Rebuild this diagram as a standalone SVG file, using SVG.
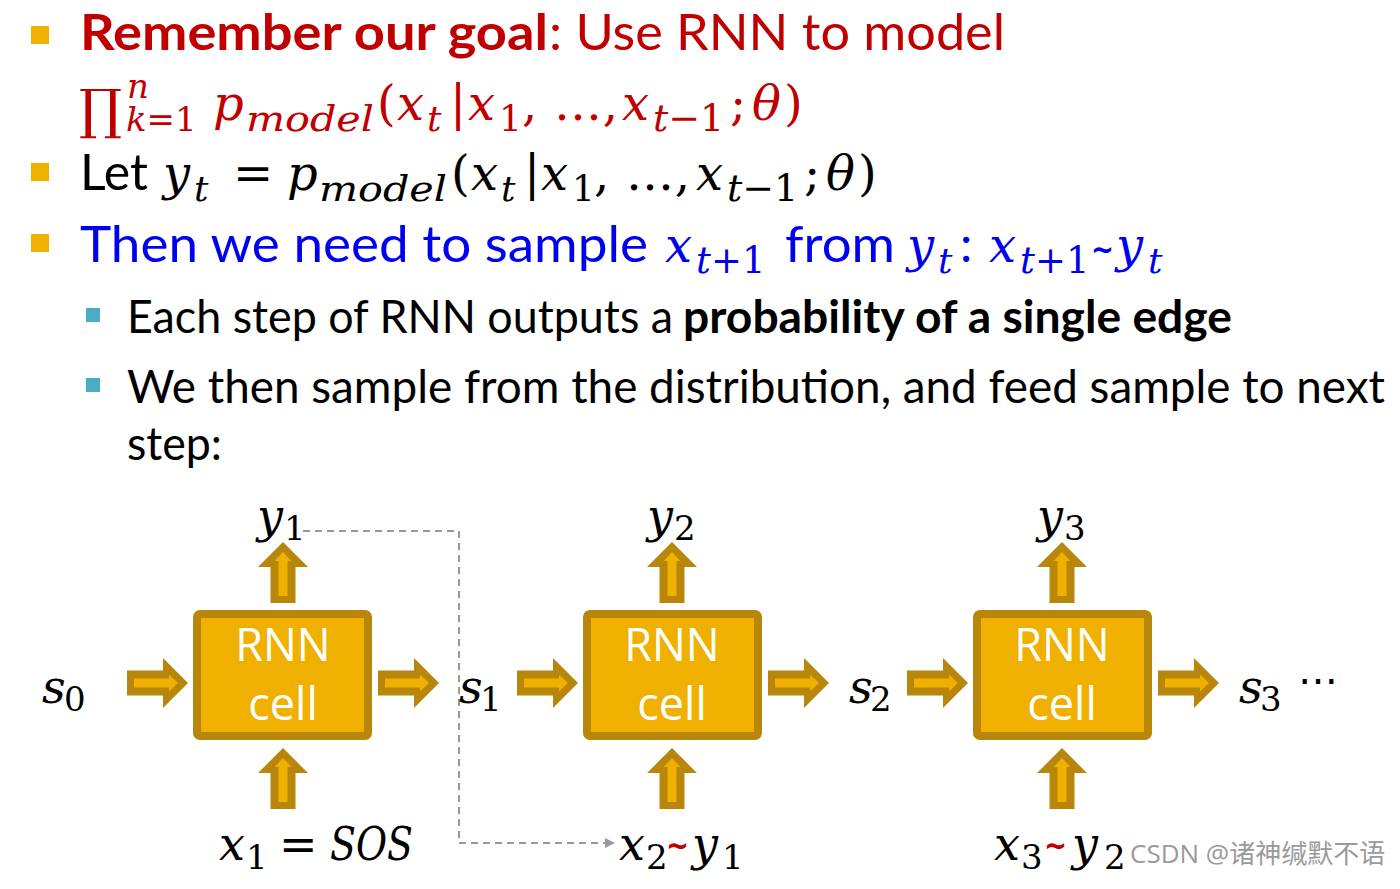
<svg xmlns="http://www.w3.org/2000/svg" width="1400" height="889" viewBox="0 0 1400 889">
<style>
.s{font-family:Lato,"Open Sans","Liberation Sans",sans-serif}
.m{font-family:"DejaVu Serif","Liberation Serif",serif;font-style:italic}
.u{font-family:"DejaVu Serif","Liberation Serif",serif;font-style:normal}
.op{font-family:"DejaVu Sans","Liberation Sans",sans-serif;font-style:normal;font-weight:bold}
.red{fill:#C00000}
.blk{fill:#000}
.blu{fill:#0000F0}
.b1{fill:#F0B000}
.b2{fill:#4BACC6}
.box{fill:#F0B000;stroke:#B8860B;stroke-width:8}
.cellt{font-family:"Open Sans",Lato,"Liberation Sans",sans-serif;font-size:45px;fill:#fff;text-anchor:middle}
.lab{font-size:46px}
.sub{font-size:34px}
</style>
<defs>
<g id="arr">
<path d="M0,-12.5H36V-25L61,0L36,25V12.5H0Z" fill="#B8860B"/>
<path d="M7,-4.5H42V-8.5L51,0L42,8.5V4.5H7Z" fill="#F0B000"/>
</g>
<marker id="tri" markerWidth="10" markerHeight="10" refX="0" refY="5" orient="auto" markerUnits="userSpaceOnUse">
<path d="M0,0L10,5L0,10Z" fill="#999"/>
</marker>
</defs>
<rect width="1400" height="889" fill="#fff"/>

<g id="text-block">
<rect class="b1" x="31" y="26" width="18" height="18"/>
<text class="s red" x="80" y="50" font-size="50" font-weight="bold" textLength="468" lengthAdjust="spacingAndGlyphs">Remember our goal</text>
<text class="s red" x="549" y="50" font-size="50" textLength="456" lengthAdjust="spacingAndGlyphs">: Use RNN to model</text>

<g class="red">
<text class="u" x="79" y="128" font-size="54">∏</text>
<text class="m" x="127" y="98" font-size="34">n</text>
<text class="m" x="126" y="131" font-size="34">k<tspan class="u">=1</tspan></text>
<text class="m" x="213" y="120" font-size="48">p</text>
<text class="m" x="246" y="131" font-size="36" textLength="128" lengthAdjust="spacingAndGlyphs">model</text>
<text class="u" x="377" y="120" font-size="48">(</text>
<text class="m" x="397" y="120" font-size="48">x</text>
<text class="m" x="427" y="131" font-size="36">t</text>
<text class="u" x="450" y="120" font-size="48">|</text>
<text class="m" x="468" y="120" font-size="48">x</text>
<text class="u" x="499" y="131" font-size="36">1</text>
<text class="u" x="522" y="120" font-size="48" textLength="96" lengthAdjust="spacing">, …,</text>
<text class="m" x="622" y="120" font-size="48">x</text>
<text class="m" x="653" y="131" font-size="38">t<tspan class="u">−1</tspan></text>
<text class="u" x="730" y="120" font-size="48">;</text>
<text class="m" x="752" y="120" font-size="48">θ</text>
<text class="u" x="784" y="120" font-size="48">)</text>
</g>

<rect class="b1" x="31" y="163" width="18" height="18"/>
<g class="blk">
<text class="s" x="80" y="190" font-size="50" textLength="68" lengthAdjust="spacingAndGlyphs">Let</text>
<text class="m" x="163" y="190" font-size="48">y</text>
<text class="m" x="194" y="201" font-size="36">t</text>
<text class="u" x="233" y="190" font-size="48">=</text>
<text class="m" x="287" y="190" font-size="48">p</text>
<text class="m" x="319" y="201" font-size="36" textLength="128" lengthAdjust="spacingAndGlyphs">model</text>
<text class="u" x="451" y="190" font-size="48">(</text>
<text class="m" x="471" y="190" font-size="48">x</text>
<text class="m" x="501" y="201" font-size="36">t</text>
<text class="u" x="524" y="190" font-size="48">|</text>
<text class="m" x="541" y="190" font-size="48">x</text>
<text class="u" x="572" y="201" font-size="36">1</text>
<text class="u" x="594" y="190" font-size="48" textLength="96" lengthAdjust="spacing">, …,</text>
<text class="m" x="696" y="190" font-size="48">x</text>
<text class="m" x="727" y="201" font-size="38">t<tspan class="u">−1</tspan></text>
<text class="u" x="804" y="190" font-size="48">;</text>
<text class="m" x="826" y="190" font-size="48">θ</text>
<text class="u" x="858" y="190" font-size="48">)</text>
</g>

<rect class="b1" x="31" y="234" width="18" height="18"/>
<g class="blu">
<text class="s" x="80" y="262" font-size="50" textLength="568" lengthAdjust="spacingAndGlyphs">Then we need to sample</text>
<text class="m" x="665" y="262" font-size="48">x</text>
<text class="m" x="696" y="273" font-size="37">t<tspan class="u">+1</tspan></text>
<text class="s" x="785" y="262" font-size="50" textLength="110" lengthAdjust="spacingAndGlyphs">from</text>
<text class="m" x="907" y="262" font-size="48">y</text>
<text class="m" x="938" y="273" font-size="36">t</text>
<text class="s" x="960" y="262" font-size="50">:</text>
<text class="m" x="989" y="262" font-size="48">x</text>
<text class="m" x="1020" y="273" font-size="37">t<tspan class="u">+1</tspan></text>
<text class="op" x="1091" y="260" font-size="32" textLength="23" lengthAdjust="spacingAndGlyphs">~</text>
<text class="m" x="1116" y="262" font-size="48">y</text>
<text class="m" x="1148" y="273" font-size="36">t</text>
</g>

<rect class="b2" x="86" y="308" width="14" height="14"/>
<text class="s blk" x="127" y="333" font-size="46" textLength="546" lengthAdjust="spacingAndGlyphs">Each step of RNN outputs a</text>
<text class="s blk" x="683" y="333" font-size="46" font-weight="bold" textLength="549" lengthAdjust="spacingAndGlyphs">probability of a single edge</text>
<rect class="b2" x="86" y="378" width="14" height="14"/>
<text class="s blk" x="127" y="403" font-size="46" textLength="1258" lengthAdjust="spacingAndGlyphs">We then sample from the distribution, and feed sample to next</text>
<text class="s blk" x="127" y="460" font-size="46" textLength="95" lengthAdjust="spacingAndGlyphs">step:</text>
</g>

<g id="connectors">
<use href="#arr" transform="translate(127,683)"/>
<use href="#arr" transform="translate(378,683)"/>
<use href="#arr" transform="translate(517,683)"/>
<use href="#arr" transform="translate(768,683)"/>
<use href="#arr" transform="translate(907,683)"/>
<use href="#arr" transform="translate(1158,683)"/>
<use href="#arr" transform="translate(283,603) rotate(-90)"/>
<use href="#arr" transform="translate(283,809) rotate(-90)"/>
<use href="#arr" transform="translate(672,603) rotate(-90)"/>
<use href="#arr" transform="translate(672,809) rotate(-90)"/>
<use href="#arr" transform="translate(1062,603) rotate(-90)"/>
<use href="#arr" transform="translate(1062,809) rotate(-90)"/>
<path d="M303,531H459V843H605" fill="none" stroke="#999" stroke-width="2" stroke-dasharray="7,5" marker-end="url(#tri)"/>
</g>

<g id="cell1">
<rect class="box" x="197" y="614" width="171" height="122" rx="3"/>
<text class="cellt" x="283" y="661">RNN</text>
<text class="cellt" x="283" y="720">cell</text>
</g>
<g id="cell2">
<rect class="box" x="587" y="614" width="171" height="122" rx="3"/>
<text class="cellt" x="672" y="661">RNN</text>
<text class="cellt" x="672" y="720">cell</text>
</g>
<g id="cell3">
<rect class="box" x="977" y="614" width="171" height="122" rx="3"/>
<text class="cellt" x="1062" y="661">RNN</text>
<text class="cellt" x="1062" y="720">cell</text>
</g>

<g id="labels" class="blk">
<text class="m lab" x="257" y="532">y</text><text class="u sub" x="284" y="540">1</text>
<text class="m lab" x="647" y="532">y</text><text class="u sub" x="674" y="540">2</text>
<text class="m lab" x="1037" y="532">y</text><text class="u sub" x="1064" y="540">3</text>
<text class="m lab" x="42" y="703">s</text><text class="u sub" x="64" y="711">0</text>
<text class="m lab" x="459" y="703">s</text><text class="u sub" x="480" y="711">1</text>
<text class="m lab" x="849" y="703">s</text><text class="u sub" x="870" y="711">2</text>
<text class="m lab" x="1239" y="703">s</text><text class="u sub" x="1260" y="711">3</text>
<text class="u" x="1298" y="694" font-size="40">⋯</text>
<text class="m lab" x="219" y="860">x</text><text class="u sub" x="246" y="869">1</text>
<text class="u lab" x="279" y="860">=</text>
<text class="m lab" x="330" y="860" textLength="83" lengthAdjust="spacingAndGlyphs">SOS</text>
<text class="m lab" x="619" y="860">x</text><text class="u sub" x="646" y="869">2</text>
<text class="op" x="666" y="856" font-size="32" textLength="23" lengthAdjust="spacingAndGlyphs" fill="#C00000">~</text>
<text class="m lab" x="692" y="860">y</text><text class="u sub" x="722" y="869">1</text>
<text class="m lab" x="994" y="860">x</text><text class="u sub" x="1021" y="869">3</text>
<text class="op" x="1044" y="856" font-size="32" textLength="23" lengthAdjust="spacingAndGlyphs" fill="#C00000">~</text>
<text class="m lab" x="1072" y="860">y</text><text class="u sub" x="1104" y="869">2</text>
</g>

<text id="watermark" x="1130" y="863" font-family="'Open Sans','Noto Sans CJK SC',sans-serif" font-size="26" fill="#9a9a9a">CSDN @诸神缄默不语</text>
</svg>
